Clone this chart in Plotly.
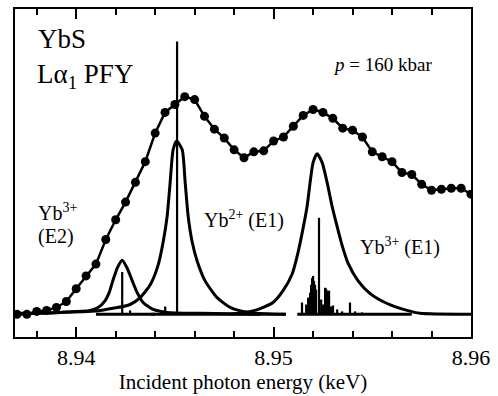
import plotly.graph_objects as go

# ---- Data (x in keV, intensity in arbitrary units) ----
pfy_x = [round(8.937 + 0.0005 * i, 4) for i in range(47)]
pfy_y = [0, 0, 3, 4, 7, 13, 26, 39, 51, 76, 96, 114, 134, 155, 184, 205, 213, 221,
         218, 201, 188, 179, 167, 159, 165, 166, 176, 180, 191, 202, 208, 205, 199,
         189, 187, 180, 165, 160, 155, 144, 142, 132, 126, 127, 128, 128, 122]

e2_x = [8.93691, 8.93919, 8.94071, 8.94111, 8.94147, 8.94167, 8.94187, 8.94208, 8.94233,
        8.94258, 8.94284, 8.94309, 8.94339, 8.94390, 8.94461, 8.94628, 8.94932]
e2_y = [0.5, 2, 4, 7, 14, 22, 35, 47, 55, 47, 34, 22, 12, 5, 2, 1, 0]

yb2_x = [8.93691, 8.93919, 8.94122, 8.94273, 8.94324, 8.94375, 8.94415, 8.94441, 8.94461,
         8.94476, 8.94491, 8.94509, 8.94537, 8.94552, 8.94567, 8.94587, 8.94613, 8.94653,
         8.94714, 8.94780, 8.94866, 8.95063]
yb2_y = [1, 2, 4, 10, 17, 30, 50, 74, 100, 134, 167, 176, 167, 134, 100, 74, 54, 34,
         17, 7, 2, 0]

yb3_x = [8.94780, 8.94906, 8.94997, 8.95048, 8.95094, 8.95124, 8.95149, 8.95170, 8.95185,
         8.95200, 8.95220, 8.95246, 8.95271, 8.95296, 8.95322, 8.95347, 8.95377, 8.95428,
         8.95489, 8.95575, 8.95676, 8.95742, 8.96000]
yb3_y = [0, 4, 12, 24, 41, 63, 87, 110, 134, 154, 163, 154, 134, 110, 89, 70, 52, 34,
         21, 11, 4, 1, 0]

# stick spectra
stick_x = [8.94233, 8.94273, 8.94451, 8.94511,
           8.95144, 8.95165, 8.95175, 8.95185, 8.95190, 8.95195, 8.95200, 8.95205,
           8.95210, 8.95215, 8.95230, 8.95241, 8.95251, 8.95261, 8.95266, 8.95271,
           8.95281, 8.95291, 8.95301, 8.95322, 8.95347, 8.95387, 8.95413, 8.95448]
stick_h = [43, 4, 8, 277,
           12, 10, 17, 22, 30, 37, 39, 34, 30, 25, 98, 15, 10, 27, 26, 24,
           24, 8, 9, 5, 3, 12, 3, 2]

# stick-group baselines (start, end)
base_segments = [(8.9410, 8.9440), (8.9438, 8.9506), (8.9512, 8.9570)]

tick_vals = [8.94, 8.95, 8.96]
tick_text = ["8.94", "8.95", "8.96"]

FONT = "Times New Roman, Liberation Serif, DejaVu Serif, serif"

fig = go.Figure()

bx, by = [], []
for a, b in base_segments:
    bx += [a, b, None]
    by += [0, 0, None]
fig.add_trace(go.Scatter(x=bx, y=by, mode="lines",
                         line=dict(color="black", width=3), hoverinfo="skip"))

sx, sy = [], []
for x, h in zip(stick_x, stick_h):
    sx += [x, x, None]
    sy += [0, h, None]
fig.add_trace(go.Scatter(x=sx, y=sy, mode="lines",
                         line=dict(color="black", width=2.2), hoverinfo="skip"))

for xs, ys in [(e2_x, e2_y), (yb2_x, yb2_y), (yb3_x, yb3_y)]:
    fig.add_trace(go.Scatter(x=xs, y=ys, mode="lines", line_shape="spline",
                             line=dict(color="black", width=3, smoothing=0.6),
                             hoverinfo="skip"))

fig.add_trace(go.Scatter(x=pfy_x, y=pfy_y, mode="lines+markers",
                         line=dict(color="black", width=2.5),
                         marker=dict(color="black", size=9)))

ann_font = dict(family=FONT, size=20, color="black")
p_font = dict(family=FONT, size=19, color="black")
big_font = dict(family=FONT, size=27, color="black")
annotations = [
    dict(x=8.93797, y=280, text="YbS", font=big_font, xanchor="left", yanchor="middle"),
    dict(x=8.93792, y=242, text="Lα<sub>1</sub> PFY", font=big_font, xanchor="left", yanchor="middle"),
    dict(x=8.95554, y=254, text="<i>p</i> = 160 kbar", font=p_font, xanchor="center", yanchor="middle"),
    dict(x=8.93797, y=104, text="Yb<sup>3+</sup>", font=ann_font, xanchor="left", yanchor="middle"),
    dict(x=8.93797, y=79, text="(E2)", font=ann_font, xanchor="left", yanchor="middle"),
    dict(x=8.94638, y=96, text="Yb<sup>2+</sup> (E1)", font=ann_font, xanchor="left", yanchor="middle"),
    dict(x=8.95428, y=69, text="Yb<sup>3+</sup> (E1)", font=ann_font, xanchor="left", yanchor="middle"),
]
for a in annotations:
    a.update(xref="x", yref="y", showarrow=False)

fig.update_layout(
    width=498, height=396,
    margin=dict(l=15, r=27, t=7, b=56),
    plot_bgcolor="white", paper_bgcolor="white",
    showlegend=False,
    annotations=annotations,
    font=dict(family=FONT, color="black"),
    xaxis=dict(
        range=[8.9369, 8.9600],
        tickvals=tick_vals, ticktext=tick_text,
        ticks="inside", ticklen=10, tickwidth=2, tickcolor="black",
        minor=dict(dtick=0.002, tick0=8.94, ticks="inside", ticklen=6, tickwidth=2, tickcolor="black"),
        showline=True, linewidth=2, linecolor="black", mirror="ticks",
        showgrid=False, zeroline=False,
        tickfont=dict(family=FONT, size=22, color="black"),
        title=dict(text="Incident photon energy (keV)", font=dict(family=FONT, size=21, color="black"),
                   standoff=4),
    ),
    yaxis=dict(
        range=[-23, 310],
        showticklabels=False, ticks="",
        showline=True, linewidth=2, linecolor="black", mirror=True,
        showgrid=False, zeroline=False,
    ),
)

fig.write_html("out.html")
